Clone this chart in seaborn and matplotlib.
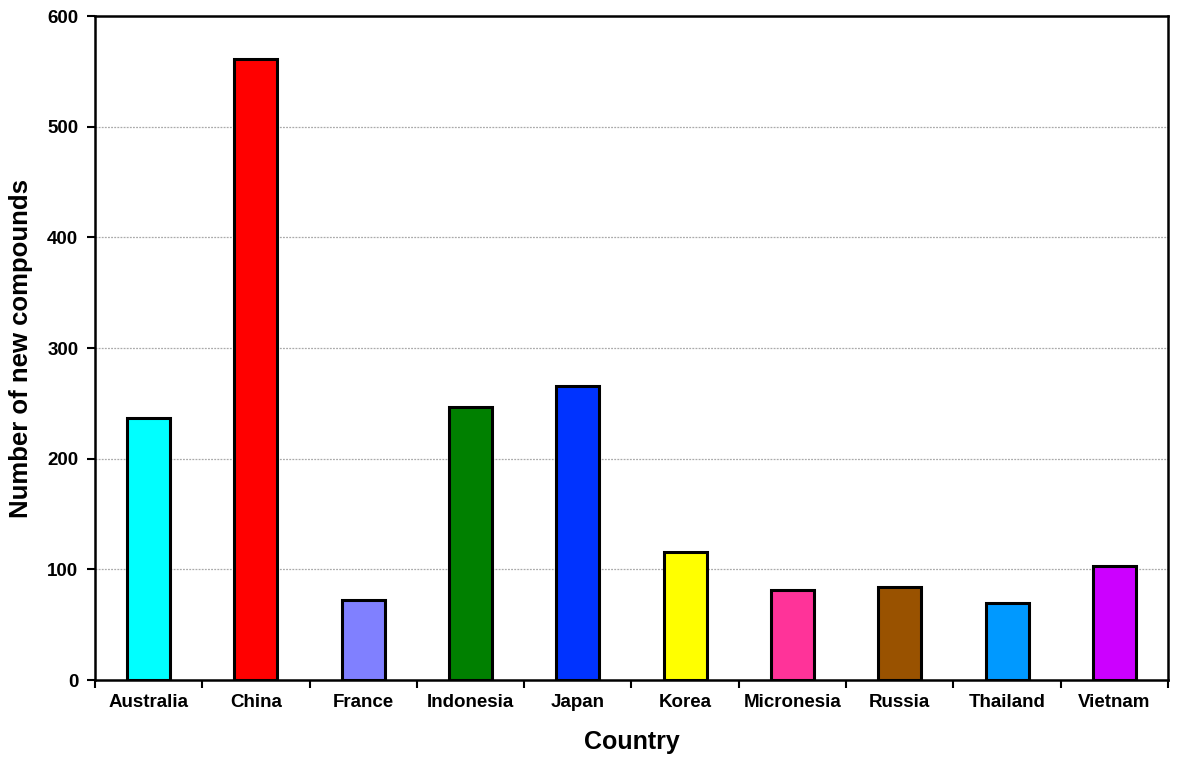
import matplotlib
matplotlib.use("Agg")
import matplotlib.pyplot as plt
import seaborn as sns
import pandas as pd

countries = ["Australia", "China", "France", "Indonesia", "Japan",
             "Korea", "Micronesia", "Russia", "Thailand", "Vietnam"]
counts = [237, 561, 72, 247, 266, 116, 81, 84, 70, 103]
colors = ["#00FFFF", "#FF0000", "#8080FF", "#008000", "#0033FF",
          "#FFFF00", "#FF3399", "#995200", "#0099FF", "#CC00FF"]
yticks = [0, 100, 200, 300, 400, 500, 600]

sns.set_style("white")
plt.rcParams["font.family"] = ["Liberation Sans", "DejaVu Sans"]
plt.rcParams["font.weight"] = "bold"
plt.rcParams["text.color"] = "black"
plt.rcParams["axes.labelcolor"] = "black"
plt.rcParams["xtick.color"] = "black"
plt.rcParams["ytick.color"] = "black"

df = pd.DataFrame({"Country": countries, "Count": counts})

fig = plt.figure(figsize=(11.81, 7.69), dpi=100)
ax = fig.add_axes([0.0804, 0.1157, 0.9086, 0.8633])

sns.barplot(data=df, x="Country", y="Count", hue="Country", palette=colors,
            width=0.4, edgecolor="black", linewidth=2.2, legend=False,
            saturation=1, ax=ax, zorder=3)

ax.set_xlim(-0.5, len(countries) - 0.5)
ax.set_ylim(0, 600)
ax.set_yticks(yticks)
ax.set_yticklabels([str(v) for v in yticks], fontsize=13.5, fontweight="bold")

# labels at category centres (minor), ticks at boundaries (major)
ax.set_xticks([i - 0.5 for i in range(len(countries) + 1)])
ax.set_xticklabels([""] * (len(countries) + 1))
ax.set_xticks(list(range(len(countries))), minor=True)
ax.set_xticklabels(countries, minor=True, fontsize=13.5, fontweight="bold")
ax.tick_params(axis="x", which="minor", length=0, pad=10)
ax.tick_params(axis="x", which="major", length=6, width=1.5, direction="out", bottom=True)
ax.tick_params(axis="y", which="major", length=6, width=1.5, direction="out", left=True, pad=6)

for v in yticks[1:-1]:
    ax.axhline(v, color="#aaaaaa", linestyle=(0, (1.5, 1)), linewidth=0.9, zorder=1)

for s in ax.spines.values():
    s.set_visible(True)
    s.set_linewidth(1.8)
    s.set_color("black")

ax.set_xlabel("Country", fontsize=18, fontweight="bold", labelpad=14)
ax.set_ylabel("Number of new compounds", fontsize=18.5, fontweight="bold", labelpad=10)

fig.savefig("out.png", dpi=100)
